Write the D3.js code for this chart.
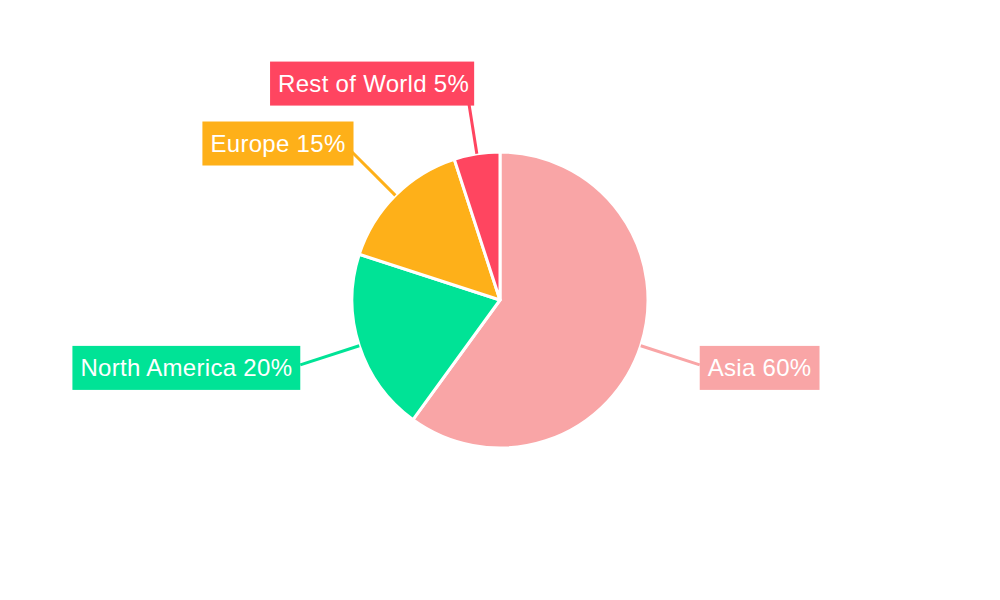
<!DOCTYPE html>
<html><head><meta charset="utf-8">
<script src="https://cdn.jsdelivr.net/npm/d3@7"></script>
<style>body{margin:0;background:#fff}</style>
</head><body>
<svg id="chart" width="1000" height="600"></svg>
<script>
const categories = ["Asia", "North America", "Europe", "Rest of World"];
const values = [60, 20, 15, 5];
const colors = ["#f9a5a6", "#00e396", "#feb019", "#ff4560"];

const svg = d3.select("#chart");
const cx = 500, cy = 300, R = 148, Rlab = 210;
const g = svg.append("g").attr("transform", `translate(${cx},${cy})`);

const data = categories.map((c, i) => ({ name: c, value: values[i], color: colors[i] }));
const pie = d3.pie().sort(null).value(d => d.value);
const arcs = pie(data);
const arc = d3.arc().innerRadius(0).outerRadius(R);

g.selectAll("path.slice").data(arcs).enter().append("path")
  .attr("class", "slice")
  .attr("d", arc)
  .attr("fill", d => d.data.color)
  .attr("stroke", "#fff").attr("stroke-width", 3).attr("stroke-linejoin", "round");

const total = d3.sum(values);
const pt = (a, r) => [r * Math.sin(a), -r * Math.cos(a)];

arcs.forEach(d => {
  const mid = (d.startAngle + d.endAngle) / 2;
  const [x0, y0] = pt(mid, R);
  const [x1, y1] = pt(mid, Rlab);
  const label = `${d.data.name} ${Math.round(d.data.value / total * 100)}%`;
  const lg = g.append("g");
  const line = lg.append("line").attr("x1", x0).attr("y1", y0)
    .attr("stroke", d.data.color).attr("stroke-width", 3);
  const rect = lg.append("rect").attr("fill", d.data.color);
  const text = lg.append("text").text(label)
    .attr("font-family", "'Liberation Sans', Arial, sans-serif")
    .attr("font-size", 24).attr("letter-spacing", 0.3).attr("fill", "#fff");
  const tw = text.node().getComputedTextLength();
  const pad = 8, h = 44;
  const upper = y1 < 0;
  const w = tw + pad * 2 - (Math.abs(x1) < 60 ? 3 : 0);
  const right = x1 >= 0;
  let bx = right ? x1 : x1 - w + (upper ? 2 : 0);
  let bcy = y1 + (upper ? -8 : 3);
  if (Math.abs(x1) < 60) { bx = x1 + 7 - w; bcy = y1 - 9; }
  const by = bcy - h / 2;
  rect.attr("x", bx).attr("y", by).attr("width", w).attr("height", h);
  text.attr("x", bx + pad).attr("y", bcy + 8.5);
  let ex = x1, ey = y1;
  if (ey > by + h) { const t = (by + h - y0) / (y1 - y0); ex = x0 + t * (x1 - x0); ey = by + h; }
  line.attr("x2", ex).attr("y2", ey);
});
</script>
</body></html>
